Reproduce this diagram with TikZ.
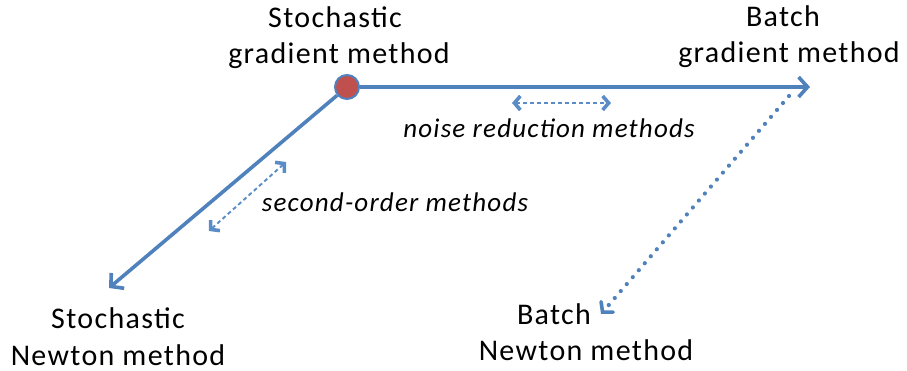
\documentclass[tikz,border=0pt]{standalone}
\usepackage{fontspec}
\setmainfont{Carlito}
\newfontfamily\lblfont[LetterSpace=4.4]{Carlito}
\usetikzlibrary{arrows.meta}
\definecolor{officeblue}{RGB}{79,129,189}
\definecolor{officered}{RGB}{192,80,77}
\definecolor{lightblue}{RGB}{90,140,200}
\tikzset{
  x=1pt, y=-1pt,
  label text/.style={font=\lblfont\fontsize{30}{36}\selectfont, text=black, inner sep=0pt},
  method text/.style={font=\lblfont\fontsize{27}{32}\selectfont\itshape, text=black, inner sep=0pt},
  main line/.style={draw=officeblue, line width=3.6pt,
    -{Straight Barb[length=9pt, width=20pt, line width=3.6pt]}},
  hint arrow/.style={draw=lightblue, line width=1.9pt, dash pattern=on 4pt off 3pt,
    {Straight Barb[length=6pt, width=14pt, line width=3.6pt]}-{Straight Barb[length=6pt, width=14pt, line width=3.6pt]}},
  dot line/.style={draw=officeblue, line width=4.2pt, line cap=round,
    dash pattern=on 0pt off 9.2pt,
    -{Straight Barb[length=7pt, width=16pt, line width=3.6pt, line cap=round]}},
}
\begin{document}
\begin{tikzpicture}
\useasboundingbox (0,0) rectangle (907,371);

% corner points of the method diagram
\node[circle, fill=officered, draw=officeblue, line width=2pt, minimum size=24pt, inner sep=0pt] (sgm) at (347,87) {};
\coordinate (bgm) at (810,87);
\coordinate (snm) at (109,288);
\coordinate (bnm) at (601,314);
\coordinate (bgs) at (789,96);

% main connectors
\draw[main line] (sgm) -- (bgm);
\draw[main line] (sgm) -- (snm);
\draw[dot line] (bgs) -- (bnm);

% small double-headed hint arrows
\coordinate (nra) at (512,103);
\coordinate (nrb) at (611,103);
\draw[hint arrow] (nra) -- (nrb);
\coordinate (soa) at (286,162);
\coordinate (sob) at (209,231);
\draw[hint arrow] (soa) -- (sob);

% labels
\node[label text, anchor=base] (l1) at (335,28) {Stochastic};
\node[label text, anchor=base] (l2) at (339,64) {gradient method};
\node[label text, anchor=base] (l3) at (783,27) {Batch};
\node[label text, anchor=base] (l4) at (789,63) {gradient method};
\node[label text, anchor=base] (l5) at (118,328) {Stochastic};
\node[label text, anchor=base] (l6) at (118,365) {Newton method};
\node[label text, anchor=base] (l7) at (554,324) {Batch};
\node[label text, anchor=base] (l8) at (586,360) {Newton method};
\node[method text, anchor=base] (m1) at (549,138) {noise reduction methods};
\node[method text, anchor=base] (m2) at (395,212) {second-order methods};
\end{tikzpicture}
\end{document}
